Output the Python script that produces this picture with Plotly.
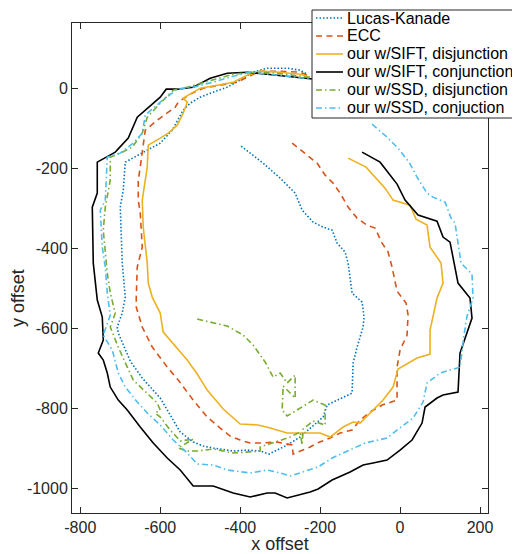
import plotly.graph_objects as go

# ---------------- data (x offset, y offset) ----------------
series_names = ["Lucas-Kanade", "ECC", "our w/SIFT, disjunction",
                "our w/SIFT, conjunction", "our w/SSD, disjunction",
                "our w/SSD, conjuction"]

lucas_kanade = [(-397.5,-145),(-342.5,-187.5),(-300,-225),(-262.5,-262.5),(-245,-305),(-217.5,-335),
    (-192.5,-347.5),(-170,-355),(-157.5,-387.5),(-137.5,-410),(-130,-437.5),(-125,-472.5),(-120,-512.5),
    (-95,-535),(-90,-572.5),(-92.5,-597.5),(-107.5,-647.5),(-117.5,-687.5),(-120,-762.5),(-182.5,-792.5),
    (-192.5,-822.5),(-250,-872.5),(-282.5,-892.5),(-327.5,-915),(-350,-907.5),(-382.5,-905),(-417.5,-907.5),
    (-467.5,-900),(-492.5,-895),(-517.5,-885),(-550,-860),(-600,-775),(-625,-747.5),(-645,-725),(-675,-682.5),
    (-705,-612.5),(-707.5,-597.5),(-695,-562.5),(-687.5,-522.5),(-695,-437.5),(-700,-297.5),(-692.5,-255),
    (-687.5,-185),(-650,-165),(-600,-137.5),(-570,-105),(-542.5,-55),(-525,-37.5),(-500,-22.5),(-467.5,-10),
    (-432.5,2.5),(-400,20),(-367.5,40),(-332.5,50),(-282.5,50),(-250,45),(-232.5,35)]

ecc = [(-270,-137.5),(-232.5,-167.5),(-207.5,-187.5),(-187.5,-217.5),(-167.5,-237.5),(-150,-262.5),
    (-130,-297.5),(-107.5,-325),(-82.5,-342.5),(-62.5,-350),(-45,-387.5),(-30,-410),(-20,-447.5),(-7.5,-507.5),
    (15,-537.5),(20,-567.5),(17.5,-617.5),(0,-655),(-7.5,-697.5),(-7.5,-780),(-25,-785),(-45,-792.5),(-75,-810),
    (-100,-830),(-120,-855),(-150,-862.5),(-175,-875),(-207.5,-887.5),(-225,-897.5),(-267.5,-915),(-270,-892.5),
    (-307.5,-885),(-350,-887.5),(-375,-887.5),(-400,-880),(-425,-870),(-450,-850),(-482.5,-822.5),(-517.5,-780),
    (-542.5,-747.5),(-555,-730),(-582.5,-697.5),(-620,-647.5),(-645,-597.5),(-660,-547.5),(-660,-522.5),
    (-657.5,-447.5),(-645,-397.5),(-650,-312.5),(-655,-280),(-655,-230),(-650,-197.5),(-642.5,-137.5),
    (-637.5,-105),(-607.5,-80),(-582.5,-62.5),(-562.5,-47.5),(-555,-35),(-525,-15),(-492.5,0),(-450,7.5),
    (-407.5,15),(-382.5,27.5),(-350,42.5),(-300,42.5),(-250,40),(-232.5,32.5)]

sift_disjunction = [(-130,-175),(-85,-197.5),(-37.5,-250),(-17.5,-280),(25,-292.5),(40,-327.5),(67.5,-342.5),
    (75,-397.5),(102.5,-437.5),(107.5,-487.5),(92.5,-525),(75,-605),(75,-665),(42.5,-675),(-5,-702.5),
    (-17.5,-747.5),(-42.5,-780),(-67.5,-805),(-100,-837.5),(-117.5,-835),(-142.5,-847.5),(-175,-872.5),
    (-200,-862.5),(-232.5,-862.5),(-282.5,-862.5),(-325,-850),(-355,-842.5),(-400,-840),(-442.5,-802.5),
    (-482.5,-755),(-507.5,-715),(-532.5,-680),(-567.5,-637.5),(-592.5,-610),(-600,-562.5),(-620,-522.5),
    (-630,-487.5),(-632.5,-437.5),(-642.5,-347.5),(-645,-280),(-632.5,-197.5),(-630,-142.5),(-600,-125),
    (-580,-112.5),(-557.5,-92.5),(-542.5,-62.5),(-532.5,-35),(-542.5,-25),(-530,-17.5),(-500,0),(-457.5,7.5),
    (-417.5,15),(-382.5,32.5),(-350,42.5),(-300,40),(-250,35),(-225,27.5)]

sift_conjunction = [(-95,-160),(-50,-185),(-7.5,-240),(12.5,-280),(45,-317.5),(92.5,-332.5),(107.5,-372.5),
    (125,-385),(145,-487.5),(175,-525),(180,-575),(167.5,-610),(150,-662.5),(145,-760),(107.5,-767.5),
    (92.5,-775),(62.5,-797.5),(55,-837.5),(30,-880),(0,-905),(-32.5,-930),(-67.5,-937.5),(-92.5,-942.5),
    (-125,-960),(-170,-980),(-205,-1002.5),(-225,-1010),(-282.5,-1025),(-312.5,-1012.5),(-332.5,-1012.5),
    (-375,-1022.5),(-417.5,-1012.5),(-467.5,-995),(-517.5,-995),(-550,-955),(-582.5,-925),(-617.5,-887.5),
    (-650,-847.5),(-682.5,-805),(-705,-780),(-725,-747.5),(-732.5,-712.5),(-742.5,-680),(-755,-662.5),
    (-742.5,-630),(-745,-572.5),(-757.5,-530),(-767.5,-437.5),(-770,-297.5),(-757.5,-262.5),(-757.5,-185),
    (-712.5,-160),(-680,-125),(-657.5,-72.5),(-630,-47.5),(-600,-22.5),(-585,-2.5),(-557.5,-2.5),(-517.5,2.5),
    (-475,25),(-432.5,37.5),(-382.5,40),(-332.5,35),(-267.5,27.5),(-212.5,22.5)]

ssd_disjunction = [(-507.5,-577.5),(-432.5,-595),(-392.5,-617.5),(-367.5,-642.5),(-337.5,-685),(-317.5,-722.5),
    (-300,-712.5),(-282.5,-737.5),(-262.5,-717.5),(-262.5,-775),(-292.5,-745),(-295,-805),(-282.5,-820),
    (-217.5,-780),(-187.5,-792.5),(-187.5,-842.5),(-217.5,-832.5),(-242.5,-852.5),(-245,-892.5),(-250,-860),
    (-275,-872.5),(-307.5,-882.5),(-350,-897.5),(-350,-907.5),(-382.5,-910),(-417.5,-912.5),(-467.5,-902.5),
    (-507.5,-907.5),(-532.5,-907.5),(-555,-900),(-517.5,-877.5),(-550,-882.5),(-575,-855),(-600,-822.5),
    (-612.5,-812.5),(-600,-805),(-607.5,-787.5),(-632.5,-762.5),(-667.5,-730),(-682.5,-697.5),(-705,-647.5),
    (-725,-597.5),(-712.5,-562.5),(-725,-512.5),(-732.5,-462.5),(-742.5,-355),(-737.5,-297.5),(-725,-230),
    (-725,-172.5),(-695,-160),(-670,-147.5),(-645,-112.5),(-632.5,-72.5),(-600,-37.5),(-567.5,-5),
    (-532.5,2.5),(-467.5,20),(-417.5,35),(-367.5,40),(-307.5,37.5),(-250,30),(-217.5,25)]

ssd_conjunction = [(-70,-90),(-32.5,-122.5),(-5,-150),(22.5,-185),(42.5,-222.5),(67.5,-262.5),(82.5,-272.5),
    (112.5,-285),(127.5,-325),(137.5,-337.5),(152.5,-437.5),(180,-465),(182.5,-525),(167.5,-570),(160,-617.5),
    (150,-697.5),(100,-712.5),(67.5,-737.5),(57.5,-785),(32.5,-825),(-7.5,-855),(-32.5,-875),(-87.5,-887.5),
    (-125,-905),(-170,-925),(-205,-947.5),(-275,-970),(-300,-962.5),(-332.5,-955),(-375,-962.5),(-432.5,-955),
    (-467.5,-942.5),(-507.5,-940),(-532.5,-912.5),(-567.5,-880),(-600,-842.5),(-632.5,-812.5),(-657.5,-785),
    (-687.5,-747.5),(-705,-712.5),(-720,-655),(-742.5,-617.5),(-725,-567.5),(-732.5,-512.5),(-737.5,-447.5),
    (-745,-397.5),(-750,-305),(-737.5,-280),(-732.5,-172.5),(-700,-162.5),(-667.5,-137.5),(-645,-112.5),
    (-637.5,-67.5),(-600,-35),(-557.5,-2.5),(-517.5,2.5),(-467.5,15),(-417.5,30),(-375,40),(-307.5,32.5),
    (-250,25),(-217.5,22.5)]

x_tickvals = [-800, -600, -400, -200, 0, 200]
x_ticktext = ["-800", "-600", "-400", "-200", "0", "200"]
y_tickvals = [0, -200, -400, -600, -800, -1000]
y_ticktext = ["0", "-200", "-400", "-600", "-800", "-1000"]

# ---------------- styles ----------------
colors = ["#0072BD", "#D95319", "#EDB120", "#000000", "#77AC30", "#4DBEEE"]
dashes = ["1.5px,2px", "6px,4.5px", "solid", "solid", "6px,3px,1.5px,3px", "6px,3px,1.5px,3px"]
LW = 1.6
FONT = "Liberation Sans, Arial, Helvetica, sans-serif"

PAGE = 8                      # default body margin of the html page
W, H = 512, 546
ML, MT = 64, 15
PW, PH = 416, 490
MR, MB = W - ML - PW, H - MT - PH

def pxx(px):                  # page pixel -> paper x
    return (px - PAGE - ML) / PW

def pxy(py):                  # page pixel -> paper y
    return (MT + PH - (py - PAGE)) / PH

fig = go.Figure()
all_series = [lucas_kanade, ecc, sift_disjunction, sift_conjunction, ssd_disjunction, ssd_conjunction]
for name, pts, c, d in zip(series_names, all_series, colors, dashes):
    fig.add_trace(go.Scatter(x=[p[0] for p in pts], y=[p[1] for p in pts], mode="lines",
                             name=name, showlegend=False,
                             line=dict(color=c, width=LW, dash=d)))

axis_common = dict(showgrid=False, zeroline=False, showline=True, linecolor="#262626", linewidth=1,
                   mirror="ticks", ticks="inside", ticklen=6, tickwidth=1, tickcolor="#262626",
                   tickfont=dict(family=FONT, size=16, color="#262626"), automargin=False)

fig.update_xaxes(range=[-820.75, 220], tickvals=x_tickvals, ticktext=x_ticktext,
                 title=dict(text="x offset", font=dict(family=FONT, size=18, color="#262626"), standoff=4),
                 **axis_common)
fig.update_yaxes(range=[-1062.5, 163], tickvals=y_tickvals, ticktext=y_ticktext, **axis_common)

# ---------------- legend box (drawn manually to match row spacing) ----------------
shapes = [dict(type="rect", xref="paper", yref="paper", x0=pxx(312), x1=pxx(519.5), y0=pxy(118), y1=pxy(10),
               line=dict(color="#262626", width=1), fillcolor="white", layer="above")]
annotations = [dict(xref="paper", yref="paper", x=pxx(18), y=pxy(298), text="y offset", textangle=-90,
                    showarrow=False, xanchor="center", yanchor="middle",
                    font=dict(family=FONT, size=18, color="#262626"))]
row_y = [18, 36, 54, 72, 90, 108]
for name, c, d, ry in zip(series_names, colors, dashes, row_y):
    shapes.append(dict(type="line", xref="paper", yref="paper", x0=pxx(316), x1=pxx(343),
                       y0=pxy(ry), y1=pxy(ry), line=dict(color=c, width=LW, dash=d), layer="above"))
    annotations.append(dict(xref="paper", yref="paper", x=pxx(345), y=pxy(ry), text=name, showarrow=False,
                            xanchor="left", yanchor="middle", font=dict(family=FONT, size=16, color="#000000")))

fig.update_layout(width=W, height=H, margin=dict(l=ML, r=MR, t=MT, b=MB, pad=0),
                  paper_bgcolor="white", plot_bgcolor="white", showlegend=False,
                  shapes=shapes, annotations=annotations, font=dict(family=FONT))

fig.write_html("out.html")
